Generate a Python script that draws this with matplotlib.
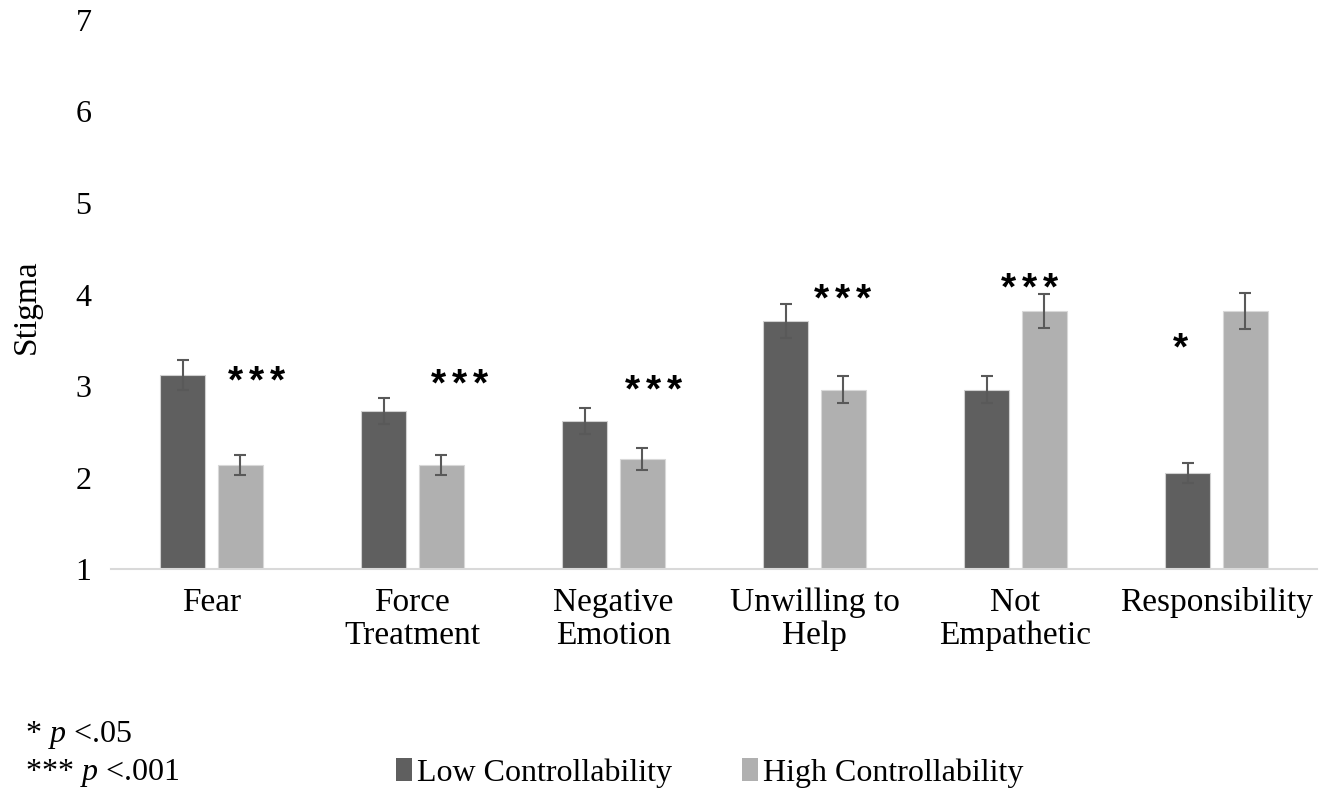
import matplotlib
matplotlib.use("Agg")
import matplotlib.pyplot as plt
import numpy as np
from matplotlib.patches import Patch

categories = ["Fear", "Force\nTreatment", "Negative\nEmotion", "Unwilling to\nHelp", "Not\nEmpathetic", "Responsibility"]
low_vals = [3.12, 2.73, 2.62, 3.71, 2.96, 2.05]
high_vals = [2.14, 2.14, 2.20, 2.96, 3.82, 3.82]
low_err = [0.16, 0.14, 0.14, 0.19, 0.15, 0.105]
high_err = [0.11, 0.11, 0.12, 0.15, 0.19, 0.195]
sig_labels = ["***", "***", "***", "***", "***", "*"]
sig_x = [0.226, 1.236, 2.20, 3.14, 4.07, 4.82]
sig_y = [3.13, 3.10, 3.03, 4.03, 4.14, 3.49]
yticks = [1, 2, 3, 4, 5, 6, 7]

plt.rcParams['font.family'] = ['Liberation Serif', 'DejaVu Serif']
plt.rcParams['mathtext.fontset'] = 'custom'
plt.rcParams['mathtext.rm'] = 'Liberation Serif'
plt.rcParams['mathtext.it'] = 'Liberation Serif:italic'

low_color = "#5f5f5f"
high_color = "#b0b0b0"

fig = plt.figure(figsize=(13.32, 7.96), dpi=100)
ax = fig.add_axes([0.0833, 0.285, 0.9054, 0.69])

x = np.arange(len(categories))
w = 0.224
off = 0.144
ekw = dict(ecolor="#595959", elinewidth=1.5, capsize=4.5, capthick=1.5)
ax.bar(x - off, low_vals, w, color=low_color, edgecolor="#d0d0d0", linewidth=0.8,
       yerr=low_err, error_kw=ekw, label="Low Controllability")
ax.bar(x + off, high_vals, w, color=high_color, edgecolor="#d8d8d8", linewidth=0.8,
       yerr=high_err, error_kw=ekw, label="High Controllability")

fs_star = 28
pitch_pt = 21 * 0.72
for sx, sy, s in zip(sig_x, sig_y, sig_labels):
    n = len(s)
    for i in range(n):
        ax.annotate("*", (sx, sy), xytext=((i - (n - 1) / 2) * pitch_pt, -0.47 * fs_star),
                    textcoords="offset points", ha="center", va="baseline",
                    fontsize=fs_star, fontweight="bold", family="Liberation Sans")

ax.set_ylim(1, 7)
ax.set_xlim(-0.5, len(categories) - 0.5)
ax.set_yticks(yticks)
ax.set_yticklabels([str(t) for t in yticks], fontsize=23)
ax.set_xticks(x)
ax.set_xticklabels(categories, fontsize=24, linespacing=1.12)
ax.tick_params(axis="y", length=0, pad=14)
ax.tick_params(axis="x", length=0, pad=13)
for s in ["left", "right", "top"]:
    ax.spines[s].set_visible(False)
ax.spines["bottom"].set_color("#d9d9d9")
ax.spines["bottom"].set_linewidth(1.5)

fig.text(27/1332, 1 - 307/796, "Stigma", fontsize=24, rotation=90, ha="center", va="center")

fig.text(25/1332, 1 - 735/796, "* $p$ <.05", fontsize=23, va="center", ha="left")
fig.text(25/1332, 1 - 773/796, "*** $p$ <.001", fontsize=23, va="center", ha="left")

handles = [Patch(facecolor=low_color, edgecolor="none"), Patch(facecolor=high_color, edgecolor="none")]
fig.legend(handles, ["Low Controllability", "High Controllability"], loc="center",
           bbox_to_anchor=(710/1332, 1 - 773/796), ncol=2, frameon=False, fontsize=23,
           handlelength=0.5, handleheight=0.7, handletextpad=0.15, columnspacing=2.2,
           borderpad=0, borderaxespad=0)

fig.savefig("out.png", dpi=100)
